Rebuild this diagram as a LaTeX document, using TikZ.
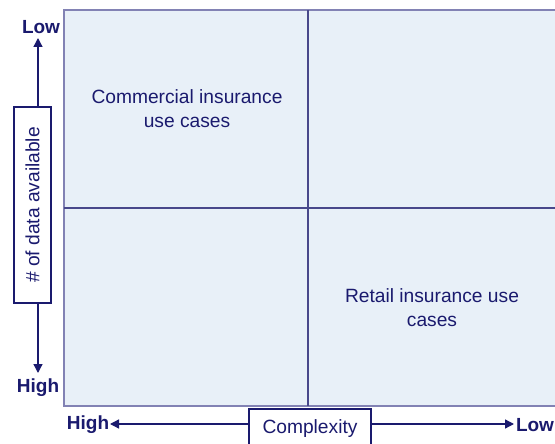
\documentclass[tikz,border=0pt]{standalone}
\usepackage{fontspec}
\setmainfont{Liberation Sans}
\usetikzlibrary{arrows.meta}
\definecolor{ink}{RGB}{26,26,110}
\definecolor{cellfill}{RGB}{232,240,248}
\definecolor{rim}{RGB}{130,130,180}
\tikzset{
  cell/.style={fill=cellfill, draw=rim, line width=1.3pt},
  divider/.style={draw=ink!80, line width=1.2pt},
  axisline/.style={draw=ink, line width=1.3pt, -{Triangle[length=9pt,width=9pt]}},
  axisbox/.style={draw=ink, line width=1.3pt, fill=white, text=ink, inner sep=0pt},
  endlabel/.style={text=ink, font=\fontsize{19}{22}\selectfont\bfseries, inner sep=0pt},
  celltext/.style={text=ink, font=\fontsize{19.2}{24}\selectfont, align=center, inner sep=0pt}
}
\begin{document}
\begin{tikzpicture}[x=1pt, y=-1pt]
  \clip (0,0) rectangle (555,444);
  \fill[white] (0,0) rectangle (555,444);

  % quadrant grid
  \draw[cell] (64,10) rectangle (580,406);
  \draw[divider] (308,10) -- (308,406);
  \draw[divider] (64,208) -- (580,208);

  % quadrant labels
  \node[celltext] (commercial) at (187,109) {Commercial insurance\\use cases};
  \node[celltext] (retail) at (432,308) {Retail insurance use\\cases};

  % vertical axis
  \node[axisbox, rotate=90, minimum width=196pt, minimum height=37pt,
        font=\fontsize{19.2}{22}\selectfont] (yaxis) at (32.5,205) {\# of data available};
  \node[endlabel] (ylow) at (41,27) {Low};
  \node[endlabel] (yhigh) at (38,388) {High};
  \coordinate (ytop) at (38,107);
  \coordinate (ybot) at (38,303);
  \coordinate (ytipup) at (38,38);
  \coordinate (ytipdown) at (38,373);
  \draw[axisline] (ytop) -- (ytipup);
  \draw[axisline] (ybot) -- (ytipdown);

  % horizontal axis
  \node[axisbox, minimum width=122pt, minimum height=40pt,
        font=\fontsize{19.2}{22}\selectfont] (xaxis) at (310,429) {\raisebox{2pt}{Complexity}};
  \node[endlabel] (xhigh) at (88,425) {High};
  \node[endlabel] (xlow) at (535,425) {Low};
  \coordinate (xleft) at (249,424);
  \coordinate (xright) at (371,424);
  \coordinate (xtipleft) at (110,424);
  \coordinate (xtipright) at (514,424);
  \draw[axisline] (xleft) -- (xtipleft);
  \draw[axisline] (xright) -- (xtipright);
\end{tikzpicture}
\end{document}
